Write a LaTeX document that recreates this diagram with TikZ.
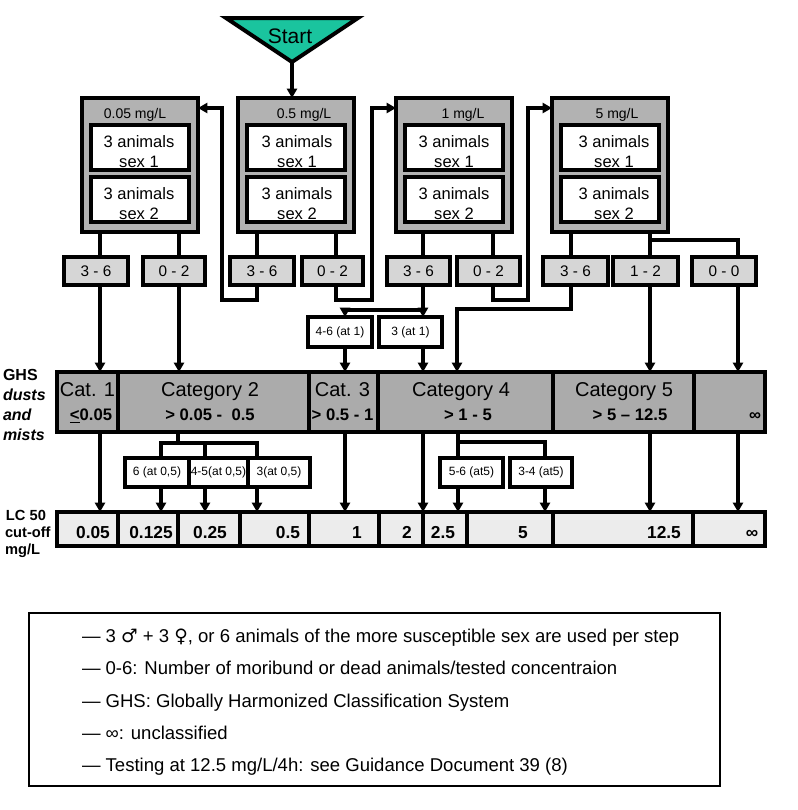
\documentclass[tikz,border=0pt]{standalone}
\usepackage{fontspec}
\setmainfont{Liberation Sans}
\newfontfamily\symfont{DejaVu Sans}
\usetikzlibrary{arrows.meta}
\definecolor{startteal}{RGB}{26,196,158}
\definecolor{concgray}{RGB}{178,178,178}
\definecolor{resgray}{RGB}{214,214,214}
\definecolor{catgray}{RGB}{171,171,171}
\definecolor{lcgray}{RGB}{236,236,236}
\begin{document}
\begin{tikzpicture}[x=0.75pt,y=-0.75pt,
  every node/.style={inner sep=0pt,outer sep=0pt},
  sz/.style 2 args={minimum width=#1*0.75pt,minimum height=#2*0.75pt},
  conc/.style={draw,line width=3.2pt,fill=concgray,sz={116}{134}},
  inbox/.style={draw,line width=3pt,fill=white,sz={98}{45}},
  res/.style={draw,line width=3.2pt,fill=resgray,font=\fontsize{11.5}{13}\selectfont},
  catbox/.style={draw,line width=3.2pt,fill=catgray},
  lcbox/.style={draw,line width=3.2pt,fill=lcgray},
  smallbox/.style={draw,line width=3pt,fill=white,font=\fontsize{9}{11}\selectfont},
  conn/.style={line width=2.5pt},
  arr/.style={line width=2.5pt,-{Triangle[length=7pt,width=7.5pt]}},
  hdr/.style={anchor=base,font=\fontsize{10.5}{12}\selectfont},
  anim/.style={anchor=base,font=\fontsize{12.4}{15}\selectfont},
  catA/.style={anchor=base,font=\fontsize{15}{18}\selectfont},
  catB/.style={anchor=base,font=\bfseries\fontsize{12.5}{15}\selectfont},
  lcv/.style={anchor=base,font=\bfseries\fontsize{13}{15}\selectfont},
  side/.style={anchor=base west,font=\bfseries\fontsize{12}{14}\selectfont},
  sidelc/.style={anchor=base west,font=\bfseries\fontsize{11}{13}\selectfont},
  leg/.style={anchor=base west,font=\fontsize{13.9}{16}\selectfont},
]
\fill[white] (0,0) rectangle (798,810);
\useasboundingbox (0,0) rectangle (798,810);

% Start
\draw[line width=3pt,fill=startteal,line join=miter] (226,18) -- (358,18) -- (292,62) -- cycle;
\node[anchor=base,font=\fontsize{15.75}{18}\selectfont] (start) at (290,43) {Start};
\coordinate (apex) at (292,62);

% concentration boxes
\node[conc] (c1) at (140,165) {};
\node[conc] (c2) at (296,165) {};
\node[conc] (c3) at (454,165) {};
\node[conc] (c4) at (610,165) {};
\node[hdr] (h1) at (135,118) {0.05 mg/L};
\node[hdr] (h2) at (304,118) {0.5 mg/L};
\node[hdr] (h3) at (463,118) {1 mg/L};
\node[hdr] (h4) at (617,118) {5 mg/L};
\foreach \i/\x/\tx in {1/140/139,2/296/297,3/454/454,4/610/614}{
  \node[inbox] (a\i) at (\x,147.5) {};
  \node[inbox] (b\i) at (\x,199.5) {};
  \node[anim] (a\i t1) at (\tx,147) {3 animals};
  \node[anim] (a\i t2) at (\tx,167) {sex 1};
  \node[anim] (b\i t1) at (\tx,199) {3 animals};
  \node[anim] (b\i t2) at (\tx,219) {sex 2};
}

% result boxes
\node[res,sz={64}{28}] (r11) at (96,271) {3 - 6};
\node[res,sz={62}{28}] (r12) at (174,271) {0 - 2};
\node[res,sz={64}{28}] (r21) at (262,271) {3 - 6};
\node[res,sz={61}{28}] (r22) at (332.5,271) {0 - 2};
\node[res,sz={63}{28}] (r31) at (418.5,271) {3 - 6};
\node[res,sz={63}{28}] (r32) at (488.5,271) {0 - 2};
\node[res,sz={65}{28}] (r41) at (575.5,271) {3 - 6};
\node[res,sz={65}{28}] (r42) at (645.5,271) {1 - 2};
\node[res,sz={64}{28}] (r43) at (724,271) {0 - 0};

% small boxes
\node[smallbox,sz={64}{30}] (u1) at (340,332) {4-6 (at 1)};
\node[smallbox,sz={63}{30}] (u2) at (410.5,332) {3 (at 1)};
\node[smallbox,sz={64}{29}] (s1) at (157,472.5) {6 (at 0,5)};
\node[smallbox,sz={59}{29}] (s2) at (218.5,472.5) {4-5(at 0,5)};
\node[smallbox,sz={62}{29}] (s3) at (279,472.5) {3(at 0,5)};
\node[smallbox,sz={63}{29}] (t1) at (471.5,472.5) {5-6 (at5)};
\node[smallbox,sz={62}{29}] (t2) at (541,472.5) {3-4 (at5)};

% category row
\node[catbox,sz={61}{60}] (cat1) at (87.5,402) {};
\node[catbox,sz={191}{60}] (cat2) at (213.5,402) {};
\node[catbox,sz={69}{60}] (cat3) at (343.5,402) {};
\node[catbox,sz={175}{60}] (cat4) at (465.5,402) {};
\node[catbox,sz={141}{60}] (cat5) at (623.5,402) {};
\node[catbox,sz={71}{60}] (catinf) at (729.5,402) {};
\node[catA] (k1a) at (87.5,396) {Cat. 1};
\node[catB] (k1b) at (91,420) {\underline{<}0.05};
\node[catA] (k2a) at (210,396) {Category 2};
\node[catB] (k2b) at (210,420) {> 0.05 -\ \ 0.5};
\node[catA] (k3a) at (342.5,396) {Cat. 3};
\node[catB] (k3b) at (342.5,420) {> 0.5 - 1};
\node[catA] (k4a) at (461,396) {Category 4};
\node[catB] (k4b) at (468,420) {> 1 - 5};
\node[catA] (k5a) at (624,396) {Category 5};
\node[catB] (k5b) at (630,420) {> 5 – 12.5};
\node[catB,anchor=base east] (k6b) at (761,420) {∞};

% LC row
\node[lcbox,sz={61}{34}] (l1) at (87.5,529) {};
\node[lcbox,sz={60}{34}] (l2) at (148,529) {};
\node[lcbox,sz={62}{34}] (l3) at (209,529) {};
\node[lcbox,sz={69}{34}] (l4) at (274.5,529) {};
\node[lcbox,sz={70}{34}] (l5) at (344,529) {};
\node[lcbox,sz={44}{34}] (l6) at (401,529) {};
\node[lcbox,sz={44}{34}] (l7) at (445,529) {};
\node[lcbox,sz={86}{34}] (l8) at (510,529) {};
\node[lcbox,sz={140}{34}] (l9) at (623,529) {};
\node[lcbox,sz={72}{34}] (l10) at (729,529) {};
\node[lcv] (v1) at (93,538) {0.05};
\node[lcv] (v2) at (151,538) {0.125};
\node[lcv] (v3) at (210,538) {0.25};
\node[lcv] (v4) at (288,538) {0.5};
\node[lcv] (v5) at (357,538) {1};
\node[lcv] (v6) at (407,538) {2};
\node[lcv] (v7) at (443,538) {2.5};
\node[lcv] (v8) at (523,538) {5};
\node[lcv] (v9) at (664,538) {12.5};
\node[lcv] (v10) at (752,538) {∞};

% side labels
\node[side] (g1) at (3,380) {GHS};
\node[side] (g2) at (3,400) {\itshape dusts};
\node[side] (g3) at (3,420) {\itshape and};
\node[side] (g4) at (3,440) {\itshape mists};
\node[sidelc] (m1) at (6,520) {LC 50};
\node[sidelc] (m2) at (5,537) {cut-off};
\node[sidelc] (m3) at (5,554) {mg/L};

% connectors top
\draw[arr] (apex) -- (apex |- c2.north);
\draw[conn] (100,0 |- c1.south) -- (100,0 |- r11.north);
\draw[conn] (179,0 |- c1.south) -- (179,0 |- r12.north);
\draw[conn] (257,0 |- c2.south) -- (257,0 |- r21.north);
\draw[conn] (336,0 |- c2.south) -- (336,0 |- r22.north);
\draw[conn] (423,0 |- c3.south) -- (423,0 |- r31.north);
\draw[conn] (493,0 |- c3.south) -- (493,0 |- r32.north);
\draw[conn] (571,0 |- c4.south) -- (571,0 |- r41.north);
\draw[conn] (650,0 |- c4.south) -- (650,0 |- r42.north);
\draw[conn] (650,240) -- (738,240) -- (738,0 |- r43.north);

% results to categories / loops
\draw[arr] (100,0 |- r11.south) -- (100,0 |- cat1.north);
\draw[arr] (179,0 |- r12.south) -- (179,0 |- cat2.north);
\draw[arr] (257,0 |- r21.south) -- (257,300) -- (222,300) -- (222,108) -- (c1.east |- 0,108);
\draw[arr] (336,0 |- r22.south) -- (336,300) -- (372,300) -- (372,108) -- (c3.west |- 0,108);
\draw[arr] (423,0 |- r31.south) -- (423,0 |- u2.north);
\draw[arr] (423,310) -- (345,310) -- (345,0 |- u1.north);
\draw[arr] (345,0 |- u1.south) -- (345,0 |- cat3.north);
\draw[arr] (423,0 |- u2.south) -- (423,0 |- cat4.north);
\draw[arr] (493,0 |- r32.south) -- (493,300) -- (528,300) -- (528,108) -- (c4.west |- 0,108);
\draw[arr] (571,0 |- r41.south) -- (571,309) -- (457,309) -- (457,0 |- cat4.north);
\draw[arr] (650,0 |- r42.south) -- (650,0 |- cat5.north);
\draw[arr] (738,0 |- r43.south) -- (738,0 |- catinf.north);

% categories to LC
\draw[arr] (100,0 |- cat1.south) -- (100,0 |- l1.north);
\draw[conn] (178,0 |- cat2.south) -- (178,443);
\draw[conn] (161,0 |- s1.north) -- (161,443) -- (257,443) -- (257,0 |- s3.north);
\draw[conn] (205,443) -- (205,0 |- s2.north);
\draw[arr] (161,0 |- s1.south) -- (161,0 |- l2.north);
\draw[arr] (205,0 |- s2.south) -- (205,0 |- l3.north);
\draw[arr] (257,0 |- s3.south) -- (257,0 |- l4.north);
\draw[arr] (345,0 |- cat3.south) -- (345,0 |- l5.north);
\draw[arr] (423,0 |- cat4.south) -- (423,0 |- l7.north);
\draw[conn] (458,0 |- cat4.south) -- (458,0 |- t1.north);
\draw[conn] (458,442) -- (545,442) -- (545,0 |- t2.north);
\draw[arr] (458,0 |- t1.south) -- (458,0 |- l7.north);
\draw[arr] (545,0 |- t2.south) -- (545,0 |- l8.north);
\draw[arr] (650,0 |- cat5.south) -- (650,0 |- l9.north);
\draw[arr] (738,0 |- catinf.south) -- (738,0 |- l10.north);

% legend
\node[draw,line width=2.2pt,sz={691}{173}] (legend) at (374.5,699.5) {};
\node[leg] (e1) at (82,642) {— 3 {\symfont ♂} + 3 {\symfont ♀}, or 6 animals of the more susceptible sex are used per step};
\node[leg] (e2) at (82,674.5) {— 0-6: Number of moribund or dead animals/tested concentraion};
\node[leg] (e3) at (82,707) {— GHS: Globally Harmonized Classification System};
\node[leg] (e4) at (82,739) {— ∞: unclassified};
\node[leg] (e5) at (82,771) {— Testing at 12.5 mg/L/4h: see Guidance Document 39 (8)};
\end{tikzpicture}
\end{document}
